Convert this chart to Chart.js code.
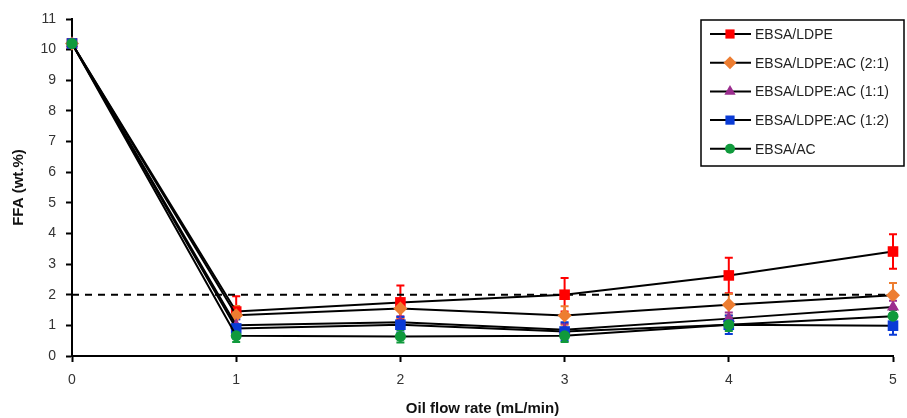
<!DOCTYPE html>
<html>
<head>
<meta charset="utf-8">
<script src="https://cdn.jsdelivr.net/npm/chart.js@4.4.1/dist/chart.umd.min.js"></script>
<style>
    html, body { margin: 0; padding: 0; background: #fff; }
    #wrap { position: relative; width: 907px; height: 418px; }
</style>
</head>
<body>
<div id="wrap"><canvas id="chart"></canvas></div>
<script>
const flowRates = [0, 1, 2, 3, 4, 5];
const xTicks = [0, 1, 2, 3, 4, 5];
const yTicks = [0, 1, 2, 3, 4, 5, 6, 7, 8, 9, 10, 11];
const limitFFA = 2;

const seriesNames = ['EBSA/LDPE', 'EBSA/LDPE:AC (2:1)', 'EBSA/LDPE:AC (1:1)', 'EBSA/LDPE:AC (1:2)', 'EBSA/AC'];
const ldpe = [10.2, 1.45, 1.75, 2.0, 2.63, 3.41];
const ac21 = [10.2, 1.33, 1.55, 1.32, 1.67, 1.98];
const ac11 = [10.2, 1.0, 1.1, 0.86, 1.22, 1.6];
const ac12 = [10.2, 0.9, 1.02, 0.8, 1.02, 0.99];
const acOnly = [10.2, 0.66, 0.64, 0.66, 1.02, 1.3];

const ldpeErr = [0, 0.5, 0.55, 0.55, 0.58, 0.56];
const ac21Err = [0, 0.3, 0.3, 0.3, 0.35, 0.4];
const ac11Err = [0, 0.2, 0.2, 0.2, 0.2, 0.2];
const ac12Err = [0, 0.3, 0.25, 0.3, 0.3, 0.3];
const acOnlyErr = [0, 0.2, 0.2, 0.2, 0.2, 0.2];

const colors = ['#ff0000', '#ed7d31', '#9b2d8e', '#0a3bd6', '#109a3c'];
const markers = ['rect', 'rectRot', 'triangle', 'rect', 'circle'];
const radii = [7.5, 7, 7, 7.5, 5.5];

const values = [ldpe, ac21, ac11, ac12, acOnly];
const errors = [ldpeErr, ac21Err, ac11Err, ac12Err, acOnlyErr];

const font = "'Liberation Sans', Arial, sans-serif";

const datasets = values.map((vals, i) => ({
    label: seriesNames[i],
    data: vals.map((v, j) => ({x: flowRates[j], y: v})),
    borderColor: '#000',
    borderWidth: 2,
    pointStyle: markers[i],
    pointRadius: radii[i],
    pointBackgroundColor: colors[i],
    pointBorderColor: colors[i],
    pointBorderWidth: 0,
    clip: false,
    errors: errors[i],
    order: values.length - i
}));

datasets.push({
    label: 'limit',
    data: flowRates.map(x => ({x: x, y: limitFFA})),
    borderColor: '#000',
    borderWidth: 2,
    borderDash: [7, 6],
    pointRadius: 0,
    order: 20
});

// error bars, drawn under the markers
const errorBarPlugin = {
    id: 'errorBars',
    beforeDatasetsDraw(chart) {
        const ctx = chart.ctx;
        const xs = chart.scales.x, ys = chart.scales.y;
        ctx.save();
        chart.data.datasets.forEach((ds, idx) => {
            if (!ds.errors) return;
            ctx.strokeStyle = colors[idx];
            ctx.lineWidth = 2;
            ds.data.forEach((p, j) => {
                const e = ds.errors[j];
                if (!e) return;
                const px = xs.getPixelForValue(p.x);
                const top = ys.getPixelForValue(p.y + e);
                const bot = ys.getPixelForValue(p.y - e);
                ctx.beginPath();
                ctx.moveTo(px, top); ctx.lineTo(px, bot);
                ctx.moveTo(px - 4, top); ctx.lineTo(px + 4, top);
                ctx.moveTo(px - 4, bot); ctx.lineTo(px + 4, bot);
                ctx.stroke();
            });
        });
        ctx.restore();
    }
};

// boxed legend with line + marker samples
const boxLegendPlugin = {
    id: 'boxLegend',
    afterDraw(chart) {
        const ctx = chart.ctx;
        const left = 701, top = 20, w = 203, h = 146;
        ctx.save();
        ctx.fillStyle = '#fff';
        ctx.fillRect(left, top, w, h);
        ctx.strokeStyle = '#000';
        ctx.lineWidth = 1.5;
        ctx.strokeRect(left, top, w, h);
        ctx.font = '14px ' + font;
        ctx.textBaseline = 'middle';
        seriesNames.forEach((name, i) => {
            const y = 34 + i * 28.7;
            ctx.strokeStyle = '#000';
            ctx.lineWidth = 2;
            ctx.beginPath();
            ctx.moveTo(710, y); ctx.lineTo(751, y);
            ctx.stroke();
            ctx.fillStyle = colors[i];
            ctx.strokeStyle = colors[i];
            Chart.helpers.drawPoint(ctx, {pointStyle: markers[i], radius: markers[i] === 'circle' ? 5 : 6.5, borderWidth: 0}, 730, y);
            ctx.fillStyle = '#222';
            ctx.fillText(name, 755, y + 1);
        });
        ctx.restore();
    }
};

new Chart(document.getElementById('chart'), {
    type: 'line',
    data: {datasets: datasets},
    plugins: [errorBarPlugin, boxLegendPlugin],
    options: {
        responsive: true,
        maintainAspectRatio: false,
        animation: false,
        layout: {padding: {top: 19, right: 14, left: 6, bottom: 0}},
        plugins: {
            legend: {display: false},
            tooltip: {enabled: false}
        },
        scales: {
            x: {
                type: 'linear',
                min: 0,
                max: 5,
                afterBuildTicks: (axis) => { axis.ticks = xTicks.map(v => ({value: v})); },
                afterFit: (axis) => { axis.height = 62; },
                grid: {display: true, drawOnChartArea: false, drawTicks: true, tickLength: 6, tickColor: '#000', tickWidth: 2},
                border: {color: '#000', width: 2},
                ticks: {color: '#333', font: {family: font, size: 14}, padding: 10},
                title: {
                    display: true,
                    text: 'Oil flow rate (mL/min)',
                    color: '#111',
                    font: {family: font, size: 15, weight: 'bold'},
                    padding: {top: 6, bottom: 0}
                }
            },
            y: {
                min: 0,
                max: 11,
                afterBuildTicks: (axis) => { axis.ticks = yTicks.map(v => ({value: v})); },
                afterFit: (axis) => { axis.width = 66; },
                grid: {display: true, drawOnChartArea: false, drawTicks: true, tickLength: 6, tickColor: '#000', tickWidth: 2},
                border: {color: '#000', width: 2},
                ticks: {color: '#333', font: {family: font, size: 14}, padding: 10},
                title: {
                    display: true,
                    text: 'FFA (wt.%)',
                    color: '#111',
                    font: {family: font, size: 15, weight: 'bold'},
                    padding: {bottom: 4}
                }
            }
        }
    }
});
</script>
</body>
</html>
